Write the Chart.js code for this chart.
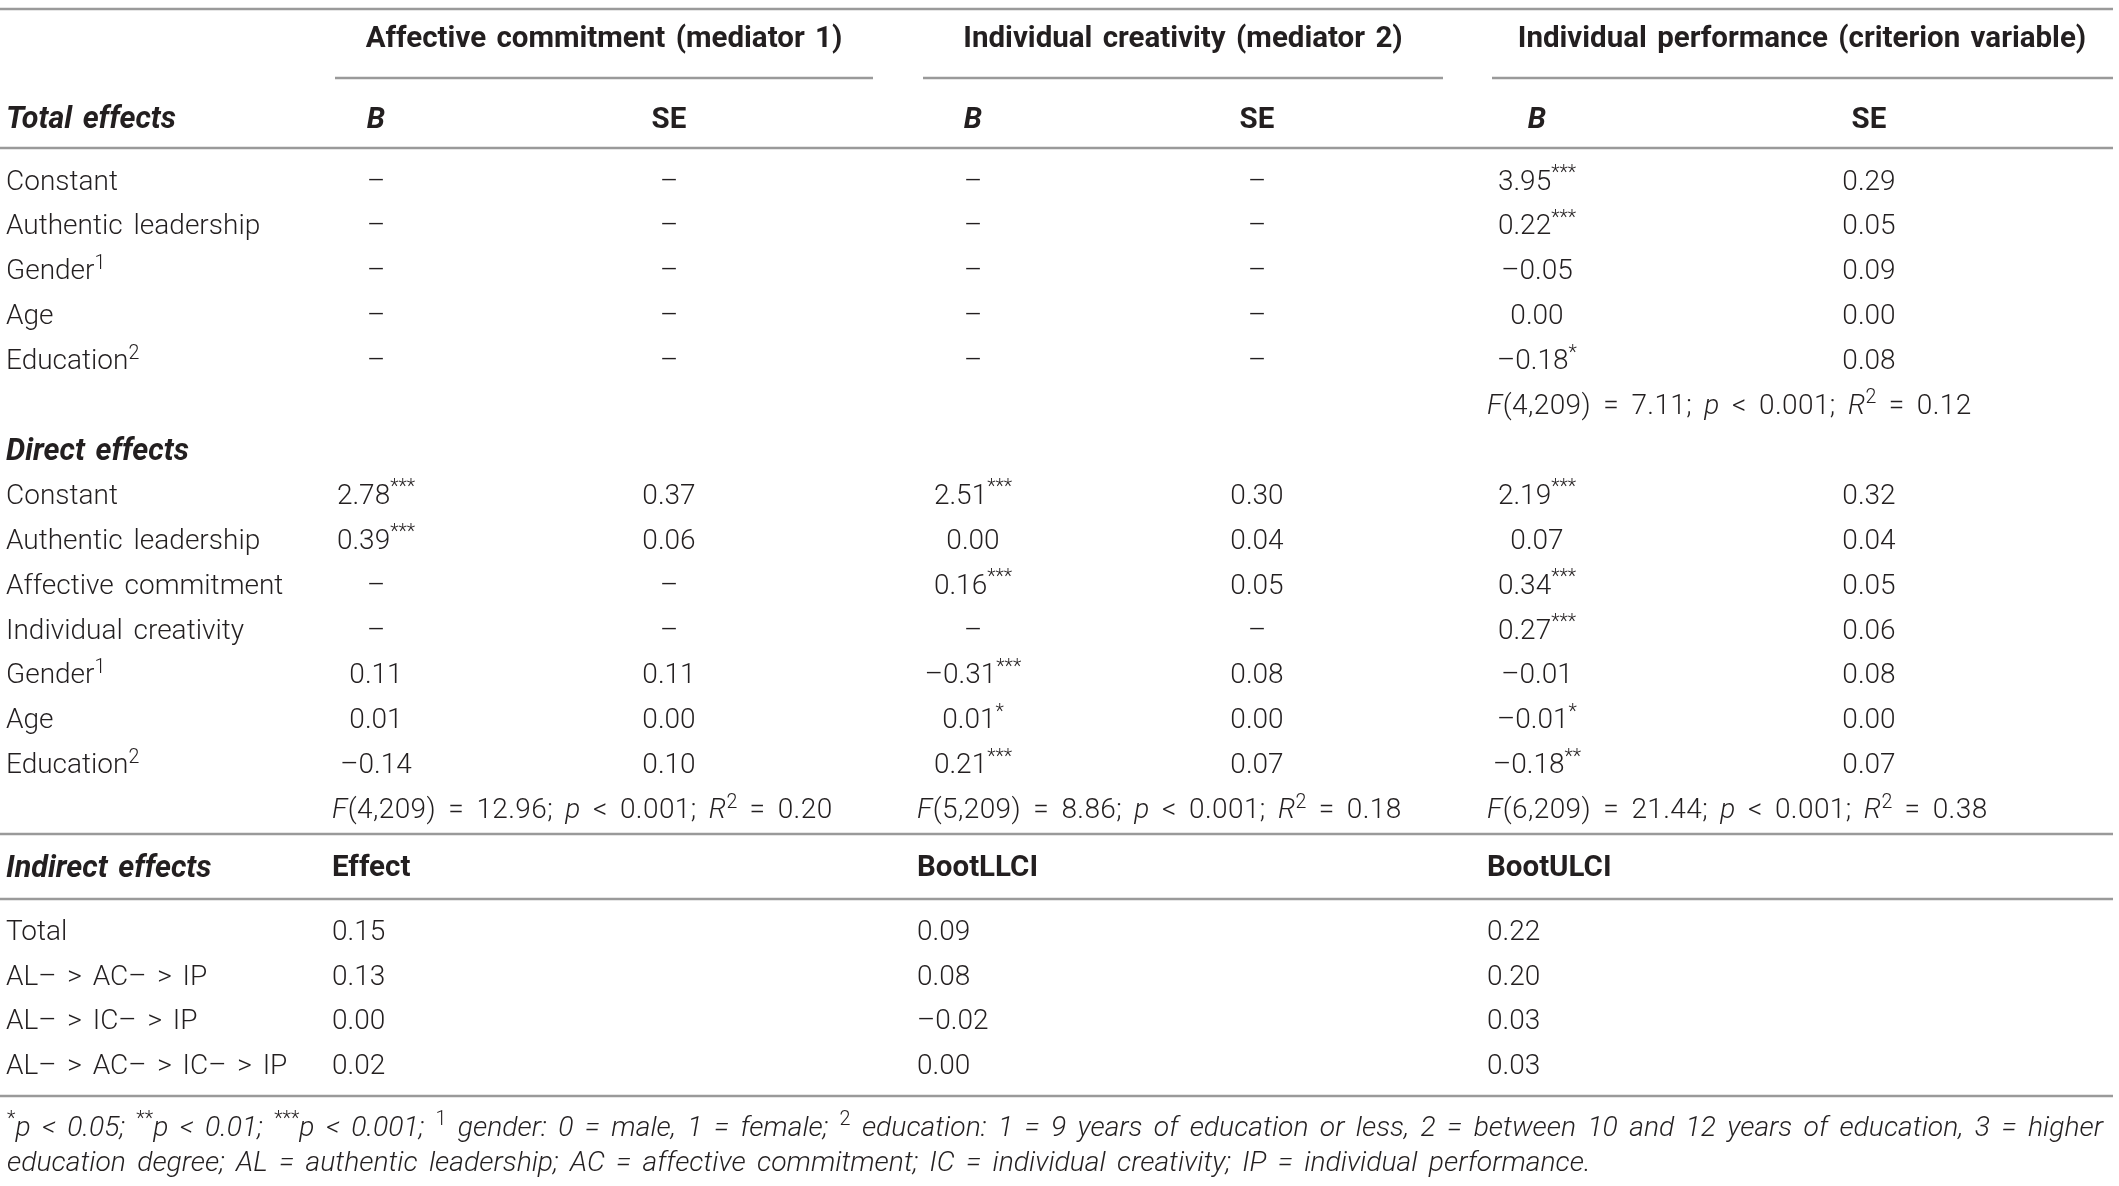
<!DOCTYPE html>
<html><head><meta charset="utf-8">
<script src="https://cdn.jsdelivr.net/npm/chart.js@4.4.1/dist/chart.umd.min.js"></script>
<style>
html,body{margin:0;padding:0;background:#fff;overflow:hidden}
#wrap{position:relative;width:2119px;height:1186px;background:#fff}
</style>
</head><body><div id="wrap"><canvas id="c"></canvas></div>
<script>
// ---------------- DATA ----------------
const groupHeaders = ['Affective commitment (mediator 1)', 'Individual creativity (mediator 2)', 'Individual performance (criterion variable)'];
const subHeaders = ['<i>B</i>', 'SE', '<i>B</i>', 'SE', '<i>B</i>', 'SE'];
const sectionHeaders = ['Total effects', 'Direct effects', 'Indirect effects'];

const totalPredictors = ['Constant', 'Authentic leadership', 'Gender<sup>1</sup>', 'Age', 'Education<sup>2</sup>'];
const totalAC_B  = ['–', '–', '–', '–', '–'];
const totalAC_SE = ['–', '–', '–', '–', '–'];
const totalIC_B  = ['–', '–', '–', '–', '–'];
const totalIC_SE = ['–', '–', '–', '–', '–'];
const totalIP_B  = ['3.95<sup>***</sup>', '0.22<sup>***</sup>', '–0.05', '0.00', '–0.18<sup>*</sup>'];
const totalIP_SE = ['0.29', '0.05', '0.09', '0.00', '0.08'];
const totalFit   = ['', '', '<i>F</i>(4,209) = 7.11; <i>p</i> < 0.001; <i>R</i><sup>2</sup> = 0.12'];

const directPredictors = ['Constant', 'Authentic leadership', 'Affective commitment', 'Individual creativity', 'Gender<sup>1</sup>', 'Age', 'Education<sup>2</sup>'];
const directAC_B  = ['2.78<sup>***</sup>', '0.39<sup>***</sup>', '–', '–', '0.11', '0.01', '–0.14'];
const directAC_SE = ['0.37', '0.06', '–', '–', '0.11', '0.00', '0.10'];
const directIC_B  = ['2.51<sup>***</sup>', '0.00', '0.16<sup>***</sup>', '–', '–0.31<sup>***</sup>', '0.01<sup>*</sup>', '0.21<sup>***</sup>'];
const directIC_SE = ['0.30', '0.04', '0.05', '–', '0.08', '0.00', '0.07'];
const directIP_B  = ['2.19<sup>***</sup>', '0.07', '0.34<sup>***</sup>', '0.27<sup>***</sup>', '–0.01', '–0.01<sup>*</sup>', '–0.18<sup>**</sup>'];
const directIP_SE = ['0.32', '0.04', '0.05', '0.06', '0.08', '0.00', '0.07'];
const directFit = [
  '<i>F</i>(4,209) = 12.96; <i>p</i> < 0.001; <i>R</i><sup>2</sup> = 0.20',
  '<i>F</i>(5,209) = 8.86; <i>p</i> < 0.001; <i>R</i><sup>2</sup> = 0.18',
  '<i>F</i>(6,209) = 21.44; <i>p</i> < 0.001; <i>R</i><sup>2</sup> = 0.38'
];

const indirectHeaders = ['Effect', 'BootLLCI', 'BootULCI'];
const indirectPaths = ['Total', 'AL– > AC– > IP', 'AL– > IC– > IP', 'AL– > AC– > IC– > IP'];
const indirectEffect = ['0.15', '0.13', '0.00', '0.02'];
const indirectLLCI   = ['0.09', '0.08', '–0.02', '0.00'];
const indirectULCI   = ['0.22', '0.20', '0.03', '0.03'];

const footnoteLines = [
  '<sup>*</sup>p < 0.05; <sup>**</sup>p < 0.01; <sup>***</sup>p < 0.001; <sup>1</sup> gender: 0 = male, 1 = female; <sup>2</sup> education: 1 = 9 years of education or less, 2 = between 10 and 12 years of education, 3 = higher',
  'education degree; AL = authentic leadership; AC = affective commitment; IC = individual creativity; IP = individual performance.'
];

// ---------------- LAYOUT ----------------
const W = 2119, H = 1186, ROW = 44.9;
const FAMILY = 'Roboto, "Liberation Sans", sans-serif';
const labelX = 6;
const colCenters = [376, 669, 973, 1257, 1537, 1869];
const groupStarts = [332, 917, 1487];
const groupCenters = [604, 1183, 1802];
const underlineSpans = [[335, 873], [923, 1443], [1492, 2113]];
const ruleSpan = [0, 2113];
const yRow = {
  groupHead: 37 / ROW, groupRule: 78 / ROW, topRule: 9 / ROW,
  subHead: 117.5 / ROW, headRule: 148 / ROW,
  totalStart: 4, totalFit: 9, directHead: 10, directStart: 11, directFit: 18,
  indirectRule1: 834 / ROW, indirectHead: 866 / ROW, indirectRule2: 899 / ROW,
  indirectStart: 930 / ROW, indirectStep: 44.6 / ROW, bottomRule: 1096 / ROW,
  foot1: 1126 / ROW, foot2: 1161 / ROW
};
const TEXT = '#231f20';
const RULE = '#9a9a9a';
const styles = {
  body: { size: 28, weight: 300, italic: false, word: 4 },
  fit: { size: 28, weight: 300, italic: false, word: 5, spacing: 0.4 },
  bold: { size: 29.5, weight: 700, italic: false, word: 3 },
  boldItalic: { size: 30.5, weight: 700, italic: true, word: 3 },
  foot: { size: 28.3, weight: 300, italic: true, word: 4.5 }
};

// ---------------- DATASETS ----------------
const datasets = [];
function addDS(points, align, style) {
  datasets.push({ data: points, align: align, textStyle: style, pointRadius: 0, pointHoverRadius: 0, showLine: false });
}
addDS(groupHeaders.map((t, i) => ({ x: groupCenters[i], y: yRow.groupHead, t })), 'center', styles.bold);
addDS(subHeaders.map((t, i) => ({ x: colCenters[i], y: yRow.subHead, t })), 'center', styles.bold);
addDS([
  { x: labelX, y: yRow.subHead, t: sectionHeaders[0] },
  { x: labelX, y: yRow.directHead, t: sectionHeaders[1] },
  { x: labelX, y: yRow.indirectHead, t: sectionHeaders[2] }
], 'left', styles.boldItalic);
addDS([
  ...totalPredictors.map((t, i) => ({ x: labelX, y: yRow.totalStart + i, t })),
  ...directPredictors.map((t, i) => ({ x: labelX, y: yRow.directStart + i, t })),
  ...indirectPaths.map((t, i) => ({ x: labelX, y: yRow.indirectStart + i * yRow.indirectStep, t }))
], 'left', styles.body);
const totalCols = [totalAC_B, totalAC_SE, totalIC_B, totalIC_SE, totalIP_B, totalIP_SE];
const directCols = [directAC_B, directAC_SE, directIC_B, directIC_SE, directIP_B, directIP_SE];
colCenters.forEach((cx, c) => {
  addDS([
    ...totalCols[c].map((t, i) => ({ x: cx, y: yRow.totalStart + i, t })),
    ...directCols[c].map((t, i) => ({ x: cx, y: yRow.directStart + i, t }))
  ], 'center', styles.body);
});
addDS([
  ...totalFit.map((t, i) => ({ x: groupStarts[i], y: yRow.totalFit, t })).filter(p => p.t),
  ...directFit.map((t, i) => ({ x: groupStarts[i], y: yRow.directFit, t }))
], 'left', styles.fit);
addDS(indirectHeaders.map((t, i) => ({ x: groupStarts[i], y: yRow.indirectHead, t })), 'left', styles.bold);
[indirectEffect, indirectLLCI, indirectULCI].forEach((arr, c) => {
  addDS(arr.map((t, i) => ({ x: groupStarts[c], y: yRow.indirectStart + i * yRow.indirectStep, t })), 'left', styles.body);
});
addDS(footnoteLines.map((t, i) => ({ x: 7, y: i === 0 ? yRow.foot1 : yRow.foot2, t })), 'left', styles.foot);

// ---------------- RENDERING ----------------
function parseRich(s) {
  const parts = s.split(/(<\/?(?:i|sup)>)/);
  let it = false, sup = false; const segs = [];
  for (const p of parts) {
    if (p === '<i>') it = true; else if (p === '</i>') it = false;
    else if (p === '<sup>') sup = true; else if (p === '</sup>') sup = false;
    else if (p) segs.push({ text: p, it, sup });
  }
  return segs;
}
function drawRich(ctx, s, x, y, align, st) {
  const segs = parseRich(s);
  const fontFor = seg => {
    const italic = (st.italic && !seg.sup) || seg.it;
    const size = seg.sup ? st.size * 0.7 : st.size;
    return (italic ? 'italic ' : '') + st.weight + ' ' + size + 'px ' + FAMILY;
  };
  const setup = seg => {
    ctx.font = fontFor(seg);
    ctx.letterSpacing = seg.sup ? '0px' : (st.spacing || 0) + 'px';
    ctx.wordSpacing = (st.word || 0) + 'px';
  };
  let w = 0;
  segs.forEach(seg => { setup(seg); seg.w = ctx.measureText(seg.text).width; w += seg.w; });
  let cx = align === 'center' ? x - w / 2 : x;
  const base = y + st.size * 0.355;
  ctx.fillStyle = TEXT; ctx.textAlign = 'left'; ctx.textBaseline = 'alphabetic';
  segs.forEach(seg => {
    setup(seg);
    ctx.fillText(seg.text, cx, seg.sup ? base - st.size * 0.38 : base);
    cx += seg.w;
  });
  ctx.letterSpacing = '0px'; ctx.wordSpacing = '0px';
}
const tablePlugin = {
  id: 'tableText',
  beforeDatasetsDraw(chart) {
    const ctx = chart.ctx, xs = chart.scales.x, ys = chart.scales.y;
    ctx.save();
    ctx.strokeStyle = RULE; ctx.lineWidth = 2.6;
    const hline = (x0, x1, yv) => {
      const py = ys.getPixelForValue(yv);
      ctx.beginPath(); ctx.moveTo(xs.getPixelForValue(x0), py); ctx.lineTo(xs.getPixelForValue(x1), py); ctx.stroke();
    };
    hline(ruleSpan[0], ruleSpan[1], yRow.topRule);
    underlineSpans.forEach(s => hline(s[0], s[1], yRow.groupRule));
    hline(ruleSpan[0], ruleSpan[1], yRow.headRule);
    hline(ruleSpan[0], ruleSpan[1], yRow.indirectRule1);
    hline(ruleSpan[0], ruleSpan[1], yRow.indirectRule2);
    hline(ruleSpan[0], ruleSpan[1], yRow.bottomRule);
    ctx.restore();
  },
  afterDatasetsDraw(chart) {
    const ctx = chart.ctx;
    ctx.save();
    chart.data.datasets.forEach((ds, i) => {
      const meta = chart.getDatasetMeta(i);
      meta.data.forEach((el, j) => drawRich(ctx, ds.data[j].t, el.x, el.y, ds.align, ds.textStyle));
    });
    ctx.restore();
  }
};

new Chart(document.getElementById('c'), {
  type: 'scatter',
  data: { datasets },
  options: {
    responsive: true, maintainAspectRatio: false, animation: false, events: [],
    layout: { padding: 0 },
    plugins: { legend: { display: false }, tooltip: { enabled: false } },
    scales: {
      x: { type: 'linear', display: false, min: 0, max: W },
      y: { type: 'linear', display: false, min: 0, max: H / ROW, reverse: true }
    }
  },
  plugins: [tablePlugin]
});
</script>
</body></html>
